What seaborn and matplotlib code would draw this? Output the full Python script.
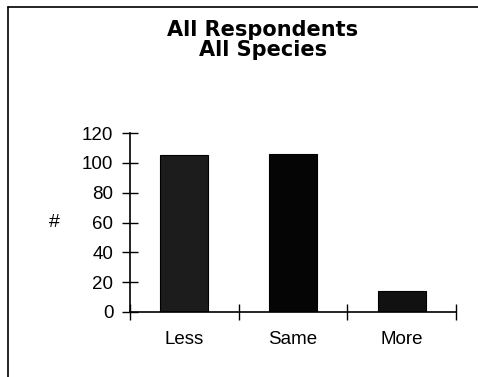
import matplotlib
matplotlib.use("Agg")
import matplotlib.pyplot as plt
from matplotlib.lines import Line2D
import seaborn as sns
import pandas as pd

categories = ["Less", "Same", "More"]
values = [105, 106, 14]
title_lines = ["All Respondents", "All Species"]
y_ticks = [0, 20, 40, 60, 80, 100, 120]
y_label = "#"

sns.set_style("white")
plt.rcParams['font.family'] = ['Liberation Sans', 'DejaVu Sans']
plt.rcParams['text.color'] = 'black'
plt.rcParams['xtick.color'] = 'black'
plt.rcParams['ytick.color'] = 'black'
plt.rcParams['axes.labelcolor'] = 'black'

W, H = 478, 377
fig = plt.figure(figsize=(W / 100, H / 100), dpi=100)
ax = fig.add_axes([130 / W, 1 - 312 / H, (456 - 130) / W, (312 - 133) / H])

df = pd.DataFrame({"cat": categories, "val": values})
sns.barplot(data=df, x="cat", y="val", ax=ax, width=0.44,
            palette=["#1c1c1c", "#050505", "#111111"], hue="cat",
            legend=False, edgecolor="black", linewidth=0.8, saturation=1)

ax.set_xlim(-0.5, len(categories) - 0.5)
ax.set_ylim(0, 120)
ax.set_yticks(y_ticks)
ax.set_yticklabels([str(t) for t in y_ticks], fontsize=13.5)
ax.set_xticks(range(len(categories)))
ax.set_xticklabels(categories, fontsize=13.5)
ax.set_xticks([i - 0.5 for i in range(len(categories) + 1)], minor=True)
ax.tick_params(axis="x", which="major", bottom=True, length=0, pad=14)
ax.tick_params(axis="x", which="minor", bottom=True, direction="inout",
               length=12, width=1, color="black")
ax.tick_params(axis="y", which="major", left=True, direction="inout",
               length=12, width=1, color="black", pad=6)
ax.set_xlabel("")
ax.set_ylabel(y_label, rotation=0, fontsize=14, va="center", ha="center")
ax.yaxis.set_label_coords((54 - 130) / (456 - 130), 0.5)

for s in ["top", "right"]:
    ax.spines[s].set_visible(False)
for s in ["left", "bottom"]:
    ax.spines[s].set_color("black")
    ax.spines[s].set_linewidth(1.2)

for txt, yy in zip(title_lines, [30, 50]):
    fig.text(263 / W, 1 - yy / H, txt, ha="center", va="center",
             fontsize=15, fontweight="bold", family=["DejaVu Sans"])

fig.add_artist(Line2D([8 / W, 8 / W], [0, 1 - 7 / H], color="black", lw=1.2,
                      transform=fig.transFigure))
fig.add_artist(Line2D([8 / W, 1], [1 - 7 / H, 1 - 7 / H], color="black", lw=1.2,
                      transform=fig.transFigure))

fig.savefig("out.png", dpi=100)
